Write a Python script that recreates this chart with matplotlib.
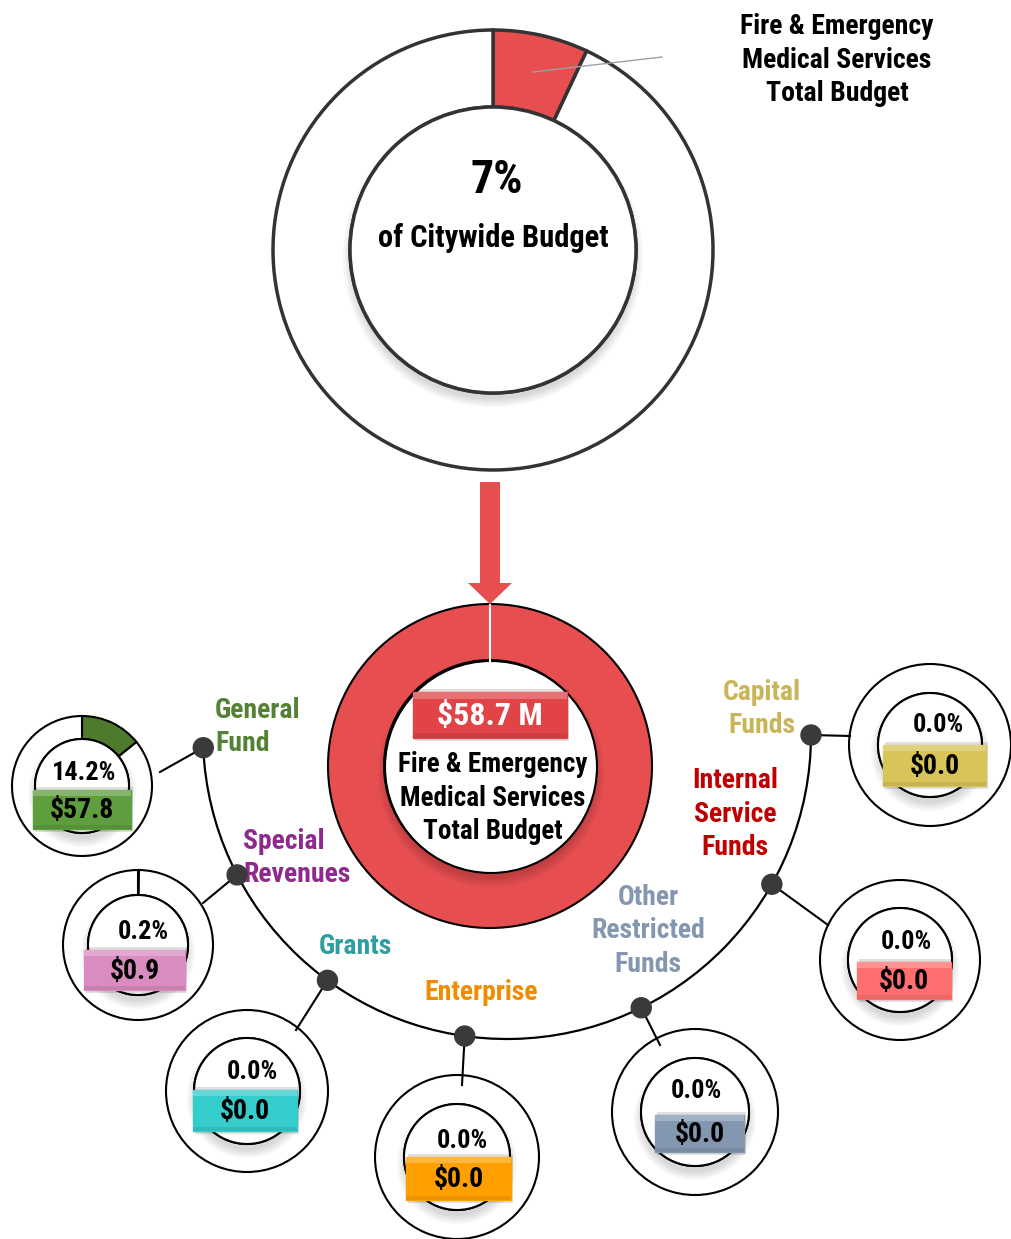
import numpy as np
import matplotlib.pyplot as plt
from matplotlib import font_manager
from matplotlib.patches import Circle, Rectangle, Arc, Polygon

W, H = 1011, 1239

# department share of the citywide budget and department total ($M)
citywide_share = 7
dept_total = 58.7
dept_name = "Fire & Emergency\nMedical Services\nTotal Budget"

# breakdown of the department budget by fund type
fund_names = ["General\nFund", "Special\nRevenues", "Grants", "Enterprise",
              "Other\nRestricted\nFunds", "Internal\nService\nFunds", "Capital\nFunds"]
fund_share = [14.2, 0.2, 0.0, 0.0, 0.0, 0.0, 0.0]
fund_amount = [57.8, 0.9, 0.0, 0.0, 0.0, 0.0, 0.0]

name_colors = ["#548235", "#8E2A8E", "#2E9E9E", "#F08C00", "#8497B0", "#C00000", "#C9B458"]
box_colors = ["#5E9E3E", "#D98CC0", "#35CCCC", "#FFA000", "#8497B0", "#FF6F70", "#D8C458"]
wedge_colors = ["#4E7A2E", "#8E2A8E", "#2E9E9E", "#F08C00", "#8497B0", "#C00000", "#C9B458"]
red = "#E64E50"


def pick_font():
    fl = font_manager.fontManager.ttflist
    names = {f.name for f in fl}
    for cand in ["Liberation Sans Narrow", "Roboto Condensed", "Open Sans Condensed"]:
        if cand in names:
            return dict(family=cand)
    if any(f.name == "DejaVu Sans" and f.stretch == "condensed" for f in fl):
        return dict(family="DejaVu Sans", stretch="condensed")
    return dict(family="DejaVu Sans")


FONT = pick_font()

fig = plt.figure(figsize=(W / 100, H / 100), dpi=100)
ax = fig.add_axes([0, 0, 1, 1])


def hole(cx, cy, r, edge="black", lw=1.5, dy=7):
    # soft shadow below the hole, then the white hole itself
    for k in range(5):
        ax.add_patch(Circle((cx, cy + dy), r + 7 - k * 2, color="#000000",
                            alpha=0.03, lw=0, zorder=2))
    ax.add_patch(Circle((cx, cy), r, facecolor="white", edgecolor=edge, lw=lw, zorder=3))


def donut(cx, cy, r_out, r_in, share, color, edge="black", lw=1.5):
    # y axis is flipped, so start at 270 and go counterclockwise in data space
    ax.pie([share, 100 - share], colors=[color, "white"], radius=r_out,
           center=(cx, cy), startangle=270, counterclock=True,
           wedgeprops=dict(width=r_out - r_in, edgecolor=edge, linewidth=lw))
    hole(cx, cy, r_in, edge=edge, lw=lw)


def label_box(x0, y0, x1, y1, color, text, tcolor="black", size=20):
    ax.add_patch(Rectangle((x0 + 2, y0 - 3), x1 - x0, y1 - y0 + 6, color="#000000",
                           alpha=0.12, lw=0, zorder=5))
    ax.add_patch(Rectangle((x0, y0), x1 - x0, y1 - y0, facecolor=color,
                           edgecolor=color, lw=1, zorder=6))
    ax.add_patch(Rectangle((x0, y0), x1 - x0, (y1 - y0) * 0.15, facecolor="white",
                           alpha=0.25, lw=0, zorder=7))
    ax.add_patch(Rectangle((x0, y1 - (y1 - y0) * 0.1), x1 - x0, (y1 - y0) * 0.1,
                           facecolor="black", alpha=0.08, lw=0, zorder=7))
    ax.text((x0 + x1) / 2, (y0 + y1) / 2 + 1, text, ha="center", va="center",
            fontsize=size, fontweight="bold", color=tcolor, zorder=8, **FONT)


# top donut: department share of citywide budget
donut(493, 250, 220, 143, citywide_share, red, edge="#333333", lw=2.5)
ax.plot([533, 662], [72, 57], color="#A0A0A0", lw=1, zorder=4)
ax.text(837, 60, dept_name, ha="center", va="center", fontsize=20,
        fontweight="bold", linespacing=1.3, **FONT)
ax.text(497, 180, f"{citywide_share}%", ha="center", va="center", fontsize=33,
        fontweight="bold", zorder=8, **FONT)
ax.text(493, 238, "of Citywide Budget", ha="center", va="center", fontsize=22,
        fontweight="bold", zorder=8, **FONT)

# arrow down to the department donut
ax.add_patch(Polygon([(480, 482), (500, 482), (500, 583), (512, 583), (490, 604),
                      (468, 583), (480, 583)], closed=True, color=red, lw=0, zorder=4))

# department donut
ax.pie([100], colors=[red], radius=162, center=(490, 766), startangle=270,
       counterclock=True, wedgeprops=dict(width=56, edgecolor="black", linewidth=1.5))
hole(491, 767, 106)
ax.plot([490, 490], [605, 661], color="white", lw=1.5, zorder=4)
label_box(413, 692, 567, 738, "#E04447", f"${dept_total} M", tcolor="white", size=23)
ax.text(493, 798, dept_name, ha="center", va="center", fontsize=19.5,
        fontweight="bold", linespacing=1.3, zorder=8, **FONT)

# connector arc with a dot for each fund
acx, acy, ar = 507, 735, 304
ax.add_patch(Arc((acx, acy), 2 * ar, 2 * ar, theta1=0, theta2=177.6,
                 color="black", lw=1.6, zorder=2))
dot_angles = [177.6, 152.6, 126.2, 98.0, 63.8, 29.4, 0.0]

# small donut layout: centre, outer and inner radius
centres = [(82, 786), (138, 945), (247, 1091), (457, 1157), (695, 1112), (900, 960), (930, 745)]
radii = [(70, 47), (75, 50), (81, 53), (82, 53), (83, 54), (80, 52), (81, 52)]
link_ends = [(160, 772), (203, 903), (296, 1030), (462, 1085), (660, 1045), (828, 925), (850, 736)]
boxes = [(33, 790, 131, 829), (84, 950, 185, 990), (193, 1090, 297, 1131),
         (406, 1157, 511, 1200), (655, 1115, 744, 1152), (857, 962, 951, 999),
         (883, 745, 986, 786)]
pct_pos = [(84, 773), (143, 932), (252, 1072), (462, 1141), (696, 1091), (906, 942), (938, 725)]
name_pos = [(215, 727, "left"), (243, 858, "left"), (355, 947, "center"),
            (481, 992, "center"), (648, 931, "center"), (735, 814, "center"),
            (762, 709, "center")]

for i in range(len(fund_names)):
    a = np.radians(dot_angles[i])
    dx, dy = acx + ar * np.cos(a), acy + ar * np.sin(a)
    ax.plot([dx, link_ends[i][0]], [dy, link_ends[i][1]], color="black", lw=1.5, zorder=2)
    ax.add_patch(Circle((dx, dy), 10, color="#3A3A3A", zorder=9))

    cx, cy = centres[i]
    ro, ri = radii[i]
    donut(cx, cy, ro, ri, fund_share[i], wedge_colors[i])
    ax.text(pct_pos[i][0], pct_pos[i][1], f"{fund_share[i]:.1f}%", ha="center",
            va="center", fontsize=19, fontweight="bold", zorder=8, **FONT)
    label_box(*boxes[i], box_colors[i], f"${fund_amount[i]:.1f}", size=20)

    nx, ny, al = name_pos[i]
    ax.text(nx, ny, fund_names[i], ha=al, va="center", fontsize=20,
            fontweight="bold", color=name_colors[i], linespacing=1.3, zorder=8, **FONT)

ax.set_aspect("equal")
ax.set_xlim(0, W)
ax.set_ylim(H, 0)
ax.axis("off")
fig.savefig("out.png", dpi=100, facecolor="white")
